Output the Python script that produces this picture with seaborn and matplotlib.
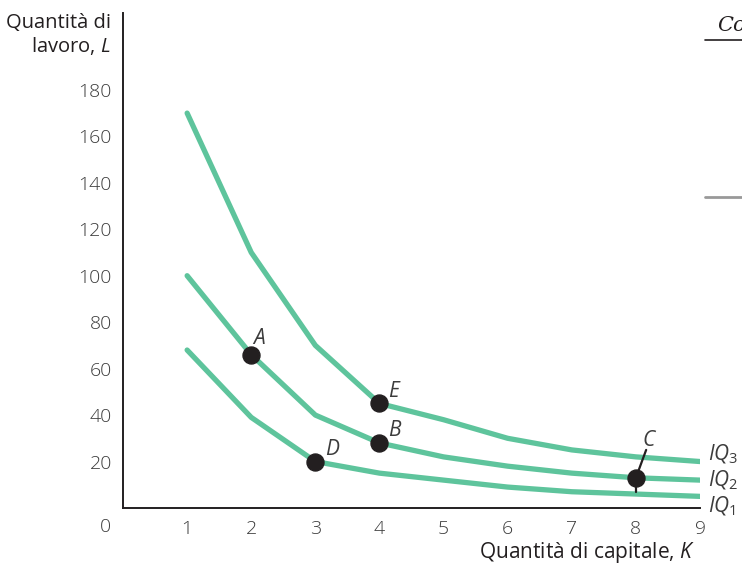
import matplotlib
matplotlib.use('Agg')
import matplotlib.pyplot as plt
import seaborn as sns
import pandas as pd

# capitale K e lavoro L lungo i tre isoquanti
capitale = [1, 2, 3, 4, 5, 6, 7, 8, 9]
iq1 = [68, 39, 20, 15, 12, 9, 7, 6, 5]
iq2 = [100, 66, 40, 28, 22, 18, 15, 13, 12]
iq3 = [170, 110, 70, 45, 38, 30, 25, 22, 20]
curve_names = ['IQ1', 'IQ2', 'IQ3']

# punti evidenziati
punti_nome = ['A', 'B', 'C', 'D', 'E']
punti_k = [2, 4, 8, 3, 4]
punti_l = [66, 28, 13, 20, 45]

xticks = [1, 2, 3, 4, 5, 6, 7, 8, 9]
yticks = [20, 40, 60, 80, 100, 120, 140, 160, 180]

sns.set_theme(style='white')
plt.rcParams['font.family'] = ['Open Sans', 'DejaVu Sans']
plt.rcParams['mathtext.fontset'] = 'custom'
plt.rcParams['mathtext.it'] = 'Open Sans:italic'
plt.rcParams['mathtext.rm'] = 'Open Sans'

df = pd.DataFrame({
    'K': capitale * 3,
    'L': iq1 + iq2 + iq3,
    'curva': [n for n in curve_names for _ in capitale],
})

green = '#5ec49c'
dark = '#231f20'
grey_txt = '#3c3c3c'

fig = plt.figure(figsize=(7.42, 5.70), dpi=100)
ax = fig.add_axes([0.1658, 0.1088, 0.7776, 0.868])

sns.lineplot(data=df, x='K', y='L', hue='curva',
             palette=[green, green, green], linewidth=3.8,
             legend=False, ax=ax, zorder=2)
sns.scatterplot(x=punti_k, y=punti_l, color=dark, s=150,
                edgecolor=dark, ax=ax, zorder=4)

ax.set_xlim(0, 9)
ax.set_ylim(0, 213)
ax.set_xticks(xticks)
ax.set_yticks(yticks)
ax.tick_params(direction='in', length=11, width=1.4, color=dark,
               labelsize=14, labelcolor=grey_txt, pad=8)
ax.tick_params(axis='x', pad=9)
for lab in ax.get_xticklabels() + ax.get_yticklabels():
    lab.set_fontweight('light')
for s in ['top', 'right']:
    ax.spines[s].set_visible(False)
for s in ['left', 'bottom']:
    ax.spines[s].set_color(dark)
    ax.spines[s].set_linewidth(1.4)
ax.set_xlabel('')
ax.set_ylabel('')

# etichette dei punti
pos = {'A': (2.13, 73), 'B': (4.24, 33.5), 'C': (8.2, 29), 'D': (3.26, 25), 'E': (4.24, 50)}
for n in punti_nome:
    x, y = pos[n]
    ax.text(x - 0.1, y, n, fontsize=15, style='italic', color=grey_txt,
            ha='left', va='center')
# linea guida per C
ax.plot([8.0, 8.16], [13, 25], color=dark, lw=1.6, zorder=3)
ax.plot([8, 8], [7, 13], color=dark, lw=1.6, zorder=3)

# nomi degli isoquanti
for n, y in zip(curve_names, [0.5, 12, 23]):
    ax.text(9.13, y, r'$\mathit{IQ}_{\mathrm{' + n[-1] + '}}$',
            fontsize=15, color=grey_txt, ha='left', va='center', clip_on=False)

ax.text(-0.27, -8, '0', fontsize=14, fontweight='light', color=grey_txt,
        ha='center', va='center', clip_on=False)
fig.text(0.149, 0.978, 'Quantità di\nlavoro, $\\mathit{L}$', fontsize=14.5,
         color=dark, ha='right', va='top', linespacing=1.15)
fig.text(0.937, 0.03, 'Quantità di capitale, $\\mathit{K}$', fontsize=15,
         color=dark, ha='right', va='center')

# frammenti del margine destro
fig.text(0.967, 0.955, 'Co', fontsize=15, style='italic', family='DejaVu Serif',
         color=dark, ha='left', va='center')
fig.add_artist(plt.Line2D([0.95, 1.0], [0.93, 0.93], color=dark, lw=1.2))
fig.add_artist(plt.Line2D([0.95, 1.0], [0.655, 0.655], color='#999999', lw=2))

fig.savefig('out.png', dpi=100)
